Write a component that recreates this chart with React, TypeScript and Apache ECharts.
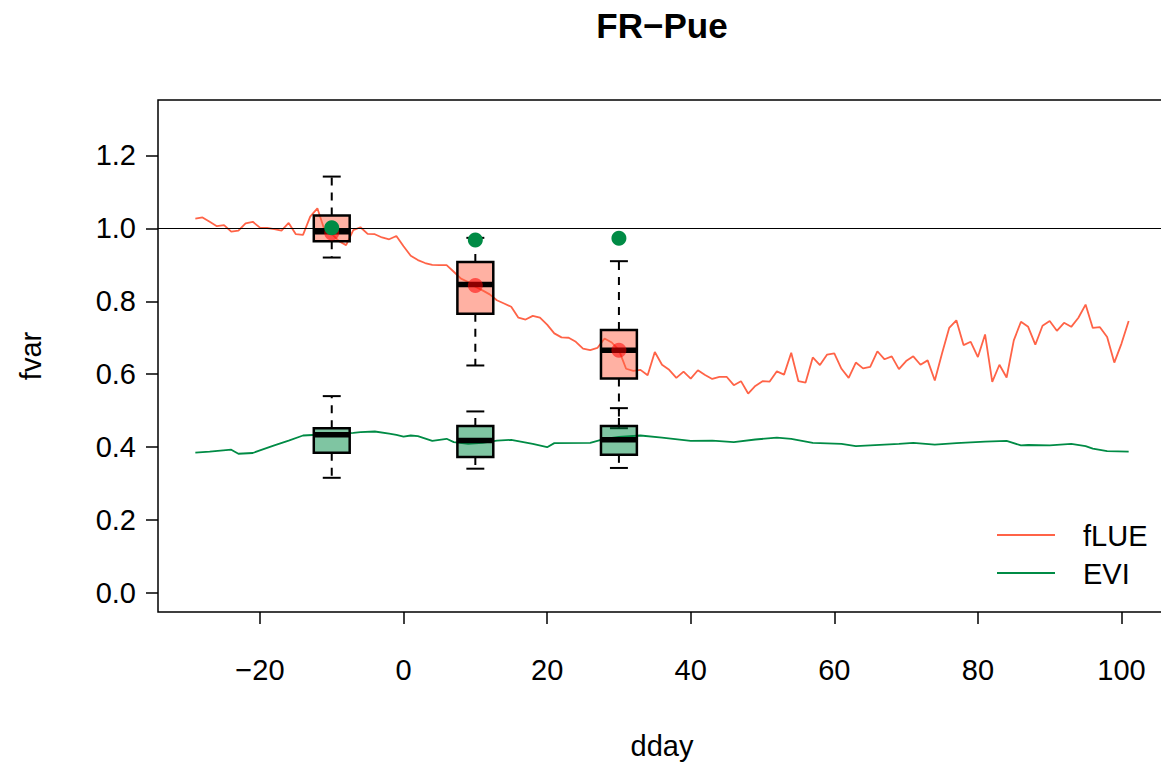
import React, { useEffect, useRef } from "react";
import * as echarts from "echarts";

// ---- data ----
const flueStartDay = -29;
const flueValues = [
  1.027, 1.03, 1.018, 1.006, 1.009, 0.991, 0.994, 1.014, 1.018, 1.002,
  1.001, 0.998, 0.994, 1.015, 0.984, 0.982, 1.032, 1.055, 0.995, 0.985,
  0.965, 0.954, 0.995, 1.003, 0.985, 0.984, 0.975, 0.97, 0.979, 0.951,
  0.925, 0.913, 0.905, 0.9, 0.899, 0.899, 0.881, 0.862, 0.853, 0.84,
  0.83, 0.819, 0.803, 0.794, 0.785, 0.755, 0.75, 0.76, 0.755, 0.736,
  0.712, 0.701, 0.7, 0.689, 0.67, 0.666, 0.672, 0.698, 0.687, 0.666,
  0.615, 0.609, 0.612, 0.597, 0.661, 0.626, 0.612, 0.59, 0.607, 0.588,
  0.611, 0.598, 0.587, 0.593, 0.593, 0.57, 0.581, 0.547, 0.568, 0.581,
  0.58, 0.608, 0.599, 0.659, 0.581, 0.577, 0.646, 0.625, 0.654, 0.657,
  0.615, 0.59, 0.632, 0.616, 0.62, 0.663, 0.641, 0.649, 0.614, 0.636,
  0.649, 0.626, 0.638, 0.583, 0.657, 0.727, 0.748, 0.68, 0.689, 0.647,
  0.709, 0.579, 0.626, 0.591, 0.693, 0.744, 0.73, 0.681, 0.733, 0.746,
  0.719, 0.741, 0.73, 0.755, 0.791, 0.727, 0.729, 0.702, 0.632, 0.684,
  0.746,
];

const eviDays = [
  -29, -27, -24, -23, -21, -20, -18, -16, -14, -12, -10, -7, -6, -4, -2, -1,
  0, 1, 2, 4, 6, 7, 9, 11, 13, 15, 18, 20, 21, 26, 28, 30, 33, 36, 40, 43,
  46, 49, 52, 54, 57, 61, 63, 67, 69, 71, 74, 77, 81, 84, 86, 87, 90, 93,
  95, 96, 98, 101,
];
const eviValues = [
  0.385, 0.388, 0.393, 0.382, 0.384, 0.391, 0.405, 0.418, 0.432, 0.434,
  0.436, 0.439, 0.441, 0.443, 0.437, 0.434, 0.429, 0.432, 0.43, 0.417,
  0.423, 0.414, 0.409, 0.412, 0.418, 0.42, 0.409, 0.4, 0.411, 0.412,
  0.423, 0.428, 0.432, 0.426, 0.417, 0.418, 0.414, 0.421, 0.426, 0.423,
  0.412, 0.409, 0.403, 0.407, 0.409, 0.412, 0.407, 0.411, 0.415, 0.417,
  0.405, 0.406, 0.405, 0.409, 0.403, 0.396, 0.389, 0.388,
];

const boxDays = [-10, 10, 30];
const flueLow = [0.92, 0.624, 0.452];
const flueQ1 = [0.965, 0.766, 0.588];
const flueMedian = [0.991, 0.846, 0.666];
const flueQ3 = [1.035, 0.908, 0.721];
const flueHigh = [1.142, 0.974, 0.91];
const flueMean = [0.987, 0.843, 0.666];
const greenPoints = [1.002, 0.968, 0.973];

const eviLow = [0.316, 0.341, 0.343];
const eviQ1 = [0.385, 0.373, 0.379];
const eviMedian = [0.434, 0.418, 0.42];
const eviQ3 = [0.452, 0.458, 0.458];
const eviHigh = [0.54, 0.498, 0.507];

const xTicks = [-20, 0, 20, 40, 60, 80, 100];
const yTicks = [0, 0.2, 0.4, 0.6, 0.8, 1.0, 1.2];

const FONT = '"Liberation Sans", Arial, Helvetica, sans-serif';
const RED = "#FF6347";
const GREEN = "#008B45";

function boxRenderer(fill: string) {
  return (params: any, api: any) => {
    const x = api.value(0);
    const lo = api.value(1);
    const q1 = api.value(2);
    const med = api.value(3);
    const q3 = api.value(4);
    const hi = api.value(5);
    const half = 2.5;
    const capHalf = 1.25;
    const tl = api.coord([x - half, q3]);
    const br = api.coord([x + half, q1]);
    const cx = api.coord([x, med])[0];
    const yMed = api.coord([x, med])[1];
    const yLo = api.coord([x, lo])[1];
    const yHi = api.coord([x, hi])[1];
    const capL = api.coord([x - capHalf, lo])[0];
    const capR = api.coord([x + capHalf, lo])[0];
    const black = "#000";
    return {
      type: "group",
      children: [
        {
          type: "line",
          shape: { x1: cx, y1: tl[1], x2: cx, y2: yHi },
          style: { stroke: black, lineWidth: 2, lineDash: [8, 7] },
        },
        {
          type: "line",
          shape: { x1: cx, y1: br[1], x2: cx, y2: yLo },
          style: { stroke: black, lineWidth: 2, lineDash: [8, 7] },
        },
        {
          type: "line",
          shape: { x1: capL, y1: yHi, x2: capR, y2: yHi },
          style: { stroke: black, lineWidth: 2 },
        },
        {
          type: "line",
          shape: { x1: capL, y1: yLo, x2: capR, y2: yLo },
          style: { stroke: black, lineWidth: 2 },
        },
        {
          type: "rect",
          shape: { x: tl[0], y: tl[1], width: br[0] - tl[0], height: br[1] - tl[1] },
          style: { fill, stroke: black, lineWidth: 2.5 },
        },
        {
          type: "line",
          shape: { x1: tl[0], y1: yMed, x2: br[0], y2: yMed },
          style: { stroke: black, lineWidth: 5.5 },
        },
      ],
    };
  };
}

export default function App() {
  const ref = useRef<HTMLDivElement>(null);

  useEffect(() => {
    if (!ref.current) return;
    const chart = echarts.init(ref.current, null, { renderer: "svg" });

    const flueData = flueValues.map((v, i) => [flueStartDay + i, v]);
    const eviData = eviDays.map((d, i) => [d, eviValues[i]]);
    const flueBoxes = boxDays.map((d, i) => [d, flueLow[i], flueQ1[i], flueMedian[i], flueQ3[i], flueHigh[i]]);
    const eviBoxes = boxDays.map((d, i) => [d, eviLow[i], eviQ1[i], eviMedian[i], eviQ3[i], eviHigh[i]]);

    chart.setOption({
      animation: false,
      backgroundColor: "#fff",
      title: {
        text: "FR\u2212Pue",
        left: 662,
        top: 8,
        padding: 0,
        textAlign: "center",
        textStyle: { fontFamily: FONT, fontSize: 35, fontWeight: "bold", color: "#000" },
      },
      grid: {
        left: 158,
        top: 100,
        width: 1008,
        height: 512,
        show: true,
        borderColor: "#000",
        borderWidth: 1.5,
        backgroundColor: "transparent",
        containLabel: false,
        outerBoundsMode: "none",
      },
      xAxis: {
        type: "value",
        position: "bottom",
        min: -34.2,
        max: 106.2,
        name: "dday",
        nameLocation: "middle",
        nameGap: 119,
        nameTextStyle: { fontFamily: FONT, fontSize: 29, color: "#000" },
        axisLine: { show: false, onZero: false },
        splitLine: { show: false },
        axisTick: {
          show: true,
          length: 12,
          customValues: xTicks,
          lineStyle: { color: "#000", width: 1.5 },
        },
        axisLabel: {
          customValues: xTicks,
          margin: 43,
          fontFamily: FONT,
          fontSize: 29,
          color: "#000",
          formatter: (v: number) => (v < 0 ? "\u2212" + Math.abs(v) : String(v)),
        },
      },
      yAxis: {
        type: "value",
        position: "left",
        min: -0.052,
        max: 1.352,
        name: "fvar",
        nameLocation: "middle",
        nameGap: 113,
        nameTextStyle: { fontFamily: FONT, fontSize: 29, color: "#000" },
        axisLine: { show: false, onZero: false },
        splitLine: { show: false },
        axisTick: {
          show: true,
          length: 12,
          customValues: yTicks,
          lineStyle: { color: "#000", width: 1.5 },
        },
        axisLabel: {
          customValues: yTicks,
          margin: 22,
          fontFamily: FONT,
          fontSize: 29,
          color: "#000",
          formatter: (v: number) => v.toFixed(1),
        },
      },
      series: [
        {
          name: "fLUE",
          type: "line",
          data: flueData,
          symbol: "none",
          showSymbol: false,
          lineStyle: { color: RED, width: 1.8 },
          z: 2,
          markLine: {
            silent: true,
            symbol: ["none", "none"],
            label: { show: false },
            lineStyle: { color: "#000", width: 1, type: "solid" },
            data: [{ yAxis: 1 }],
          },
        },
        {
          name: "EVI",
          type: "line",
          data: eviData,
          symbol: "none",
          showSymbol: false,
          lineStyle: { color: GREEN, width: 1.8 },
          z: 2,
        },
        {
          type: "custom",
          renderItem: boxRenderer("rgba(255,99,71,0.5)"),
          data: flueBoxes,
          encode: { x: 0, y: [1, 2, 3, 4, 5] },
          z: 3,
        },
        {
          type: "custom",
          renderItem: boxRenderer("rgba(0,139,69,0.5)"),
          data: eviBoxes,
          encode: { x: 0, y: [1, 2, 3, 4, 5] },
          z: 4,
        },
        {
          type: "scatter",
          data: boxDays.map((d, i) => [d, flueMean[i]]),
          symbolSize: 15,
          itemStyle: { color: "rgba(255,0,0,0.55)", opacity: 1 },
          z: 5,
        },
        {
          type: "scatter",
          data: boxDays.map((d, i) => [d, greenPoints[i]]),
          symbolSize: 15,
          itemStyle: { color: GREEN, opacity: 1 },
          z: 6,
        },
      ],
      graphic: [
        {
          type: "line",
          shape: { x1: 997, y1: 535, x2: 1055, y2: 535 },
          style: { stroke: RED, lineWidth: 1.8 },
        },
        {
          type: "text",
          x: 1083,
          y: 536,
          style: { text: "fLUE", fontFamily: FONT, fontSize: 29, fill: "#000", verticalAlign: "middle" },
        },
        {
          type: "line",
          shape: { x1: 997, y1: 573, x2: 1055, y2: 573 },
          style: { stroke: GREEN, lineWidth: 1.8 },
        },
        {
          type: "text",
          x: 1083,
          y: 574,
          style: { text: "EVI", fontFamily: FONT, fontSize: 29, fill: "#000", verticalAlign: "middle" },
        },
      ],
    });

    return () => chart.dispose();
  }, []);

  return (
    <div
      ref={ref}
      style={{ position: "absolute", left: 0, top: 0, width: 1161, height: 763, background: "#fff" }}
    />
  );
}
